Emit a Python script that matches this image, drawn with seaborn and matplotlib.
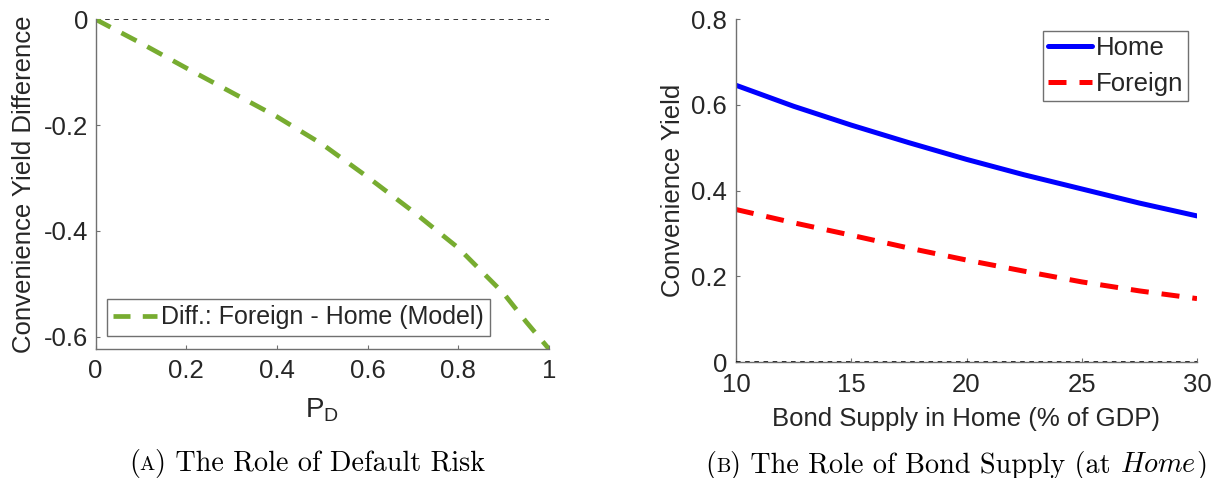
import matplotlib
matplotlib.use("Agg")
import matplotlib.pyplot as plt
import seaborn as sns
from matplotlib.offsetbox import AnchoredOffsetbox, HPacker, TextArea
from matplotlib.ticker import FuncFormatter

# data
p_default = [0.0, 0.1, 0.2, 0.3, 0.4, 0.5, 0.6, 0.7, 0.8, 0.9, 0.95, 1.0]
yield_diff = [0.0, -0.045, -0.092, -0.138, -0.184, -0.236, -0.298, -0.363,
              -0.432, -0.518, -0.572, -0.623]

bond_supply = [10, 12.5, 15, 17.5, 20, 22.5, 25, 27.5, 30]
cy_home = [0.646, 0.597, 0.553, 0.512, 0.473, 0.437, 0.404, 0.371, 0.341]
cy_foreign = [0.356, 0.325, 0.296, 0.266, 0.238, 0.212, 0.187, 0.166, 0.148]

left_xticks = [0, 0.2, 0.4, 0.6, 0.8, 1]
left_yticks = [-0.6, -0.4, -0.2, 0]
right_xticks = [10, 15, 20, 25, 30]
right_yticks = [0, 0.2, 0.4, 0.6, 0.8]

sns.set_style("ticks")
plt.rcParams["font.family"] = ["Liberation Sans", "DejaVu Sans"]
plt.rcParams["axes.unicode_minus"] = False

FS = 18.5
AX_COL = "#707070"
TXT_COL = "#262626"
DASH = (0, (3.6, 2.6))

fig = plt.figure(figsize=(12.14, 4.78), dpi=100)
W, H = 1214, 478
ax1 = fig.add_axes([95.5 / W, 1 - 349 / H, 453.5 / W, 329.7 / H])
ax2 = fig.add_axes([736 / W, 1 - 362 / H, 461 / W, 342.7 / H])


def style_axes(ax, xpad, ypad):
    for s in ["top", "right"]:
        ax.spines[s].set_visible(False)
    for s in ["left", "bottom"]:
        ax.spines[s].set_color(AX_COL)
        ax.spines[s].set_linewidth(1.0)
    ax.tick_params(direction="in", length=3.2, width=0.8, color=AX_COL,
                   labelsize=FS, labelcolor=TXT_COL)
    ax.tick_params(axis="x", pad=xpad)
    ax.tick_params(axis="y", pad=ypad)
    ax.xaxis.set_major_formatter(FuncFormatter(lambda v, _: f"{v:g}"))
    ax.yaxis.set_major_formatter(FuncFormatter(lambda v, _: f"{v:g}"))


# (A) default risk
ax1.axhline(0, color="black", lw=1.1, linestyle=(0, (3, 3)), zorder=1)
sns.lineplot(x=p_default, y=yield_diff, ax=ax1, color="#77AC30", lw=3.4,
             linestyle=DASH, label="Diff.: Foreign - Home (Model)")
ax1.set_xlim(0, 1)
ax1.set_ylim(-0.623, 0)
ax1.set_xticks(left_xticks)
ax1.set_yticks(left_yticks)
style_axes(ax1, 7, 5)
ax1.set_xlabel(r"$\mathregular{P_D}$", fontsize=FS + 1.5, color=TXT_COL)
ax1.xaxis.set_label_coords(0.5, -0.145)
ax1.set_ylabel("Convenience Yield Difference", fontsize=FS, color=TXT_COL,
               va="center")
ax1.yaxis.set_label_coords(-0.158, 0.5)
ax1.legend(loc="upper left", bbox_to_anchor=(107 / W, 1 - 299 / H),
           bbox_transform=fig.transFigure, borderaxespad=0, fontsize=18,
           frameon=True, fancybox=False, edgecolor=AX_COL, framealpha=1,
           handlelength=1.75, handletextpad=0.15, borderpad=0.25)

# (B) bond supply
ax2.axhline(0, color="black", lw=1.1, linestyle=(0, (3, 3)), zorder=3)
sns.lineplot(x=bond_supply, y=cy_home, ax=ax2, color="#0000FF", lw=3.6,
             label="Home")
sns.lineplot(x=bond_supply, y=cy_foreign, ax=ax2, color="#FF0000", lw=3.6,
             linestyle=DASH, label="Foreign")
ax2.set_xlim(10, 30)
ax2.set_ylim(0, 0.8)
ax2.set_xticks(right_xticks)
ax2.set_yticks(right_yticks)
style_axes(ax2, 8, 6.5)
ax2.set_xlabel("Bond Supply in Home (% of GDP)", fontsize=FS, color=TXT_COL)
ax2.xaxis.set_label_coords(0.5, -0.13)
ax2.set_ylabel("Convenience Yield", fontsize=FS, color=TXT_COL, va="center")
ax2.yaxis.set_label_coords(-0.136, 0.5)
ax2.legend(loc="upper left", bbox_to_anchor=(1043 / W, 1 - 31 / H),
           bbox_transform=fig.transFigure, borderaxespad=0, fontsize=FS,
           frameon=True, fancybox=False, edgecolor=AX_COL, framealpha=1,
           handlelength=1.7, handletextpad=0.15, borderpad=0.2,
           labelspacing=0.45)


# captions with small-caps letter and serif font
CAP = 20.3


def caption(parts, x, y):
    boxes = []
    for text, kind in parts:
        props = dict(fontfamily="cmr10", fontsize=CAP, color="black")
        if kind == "sc":
            props["fontsize"] = CAP * 0.72
        if kind == "it":
            props = dict(fontsize=CAP, color="black", math_fontfamily="cm")
        boxes.append(TextArea(text, textprops=props))
    pack = HPacker(children=boxes, align="baseline", pad=0, sep=0)
    box = AnchoredOffsetbox(loc="center", child=pack, pad=0, borderpad=0,
                            frameon=False, bbox_to_anchor=(x / W, 1 - y / H),
                            bbox_transform=fig.transFigure)
    fig.add_artist(box)


caption([("(", "rm"), ("A", "sc"), (") The Role of Default Risk", "rm")],
        307, 463)
caption([("(", "rm"), ("B", "sc"), (") The Role of Bond Supply (at ", "rm"),
         (r"$\mathit{Home}$", "it"), (")", "rm")], 956, 465)

plt.savefig("out.png", dpi=100)
